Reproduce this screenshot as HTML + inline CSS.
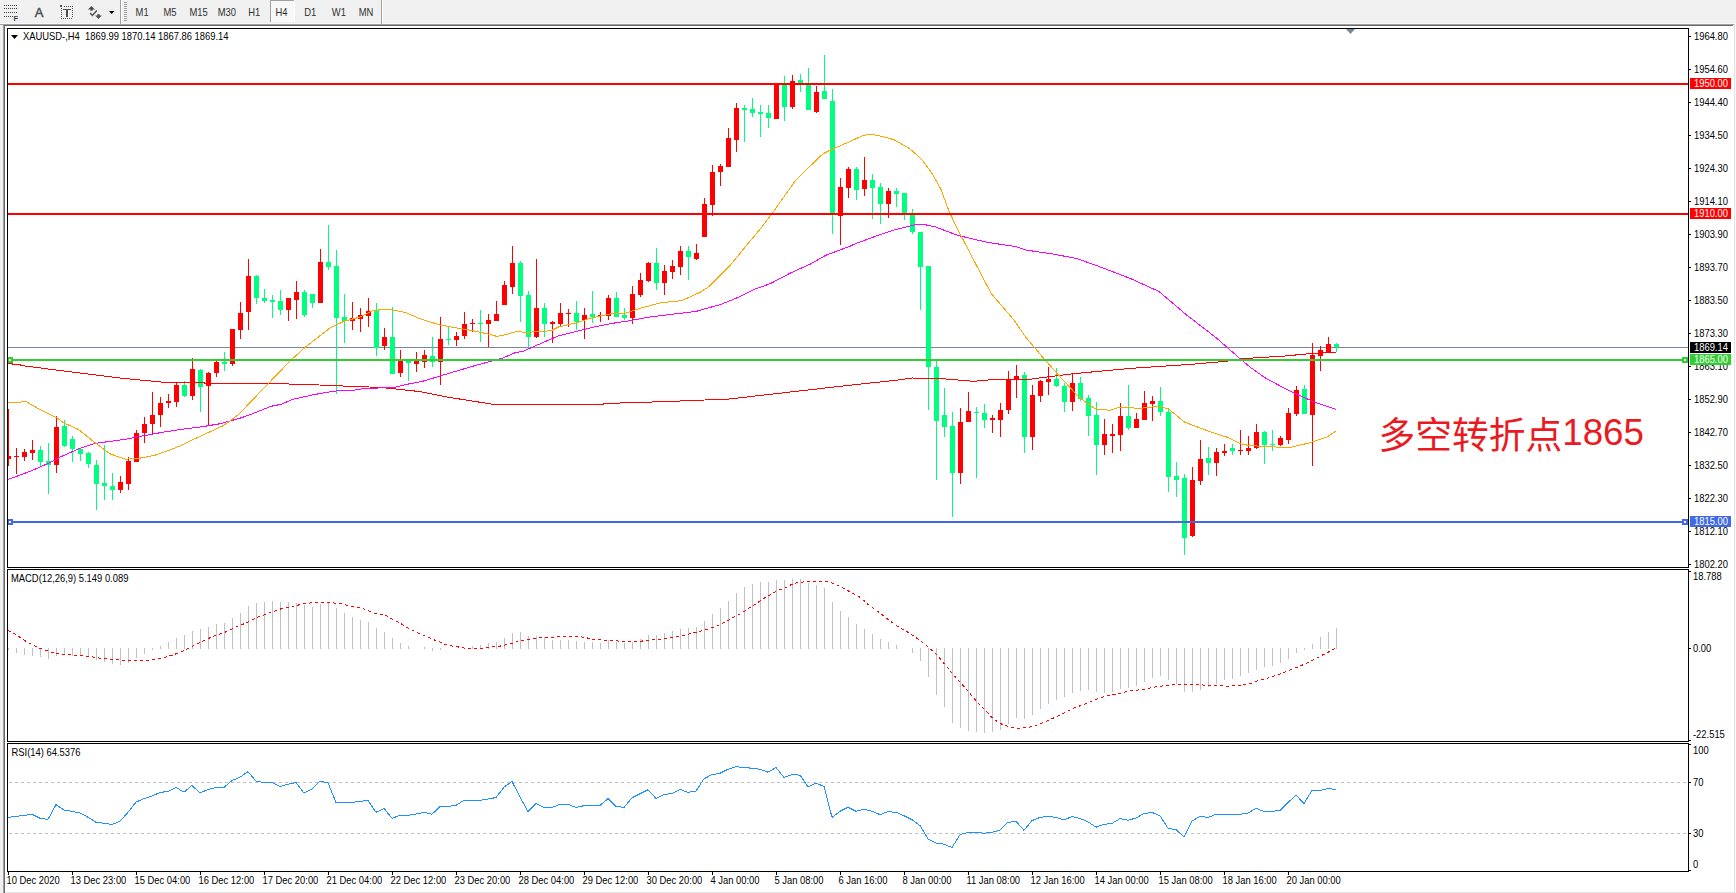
<!DOCTYPE html>
<html><head><meta charset="utf-8"><title>XAUUSD H4</title>
<style>
html,body{margin:0;padding:0;width:1736px;height:893px;overflow:hidden;background:#f0f0f0;}
svg{display:block;}
</style></head><body>
<svg width="1736" height="893" viewBox="0 0 1736 893">
<rect x="0" y="0" width="1736" height="893" fill="#f0f0f0"/>
<rect x="5" y="26" width="1729" height="866" fill="#ffffff"/>
<rect x="0" y="23" width="1736" height="1" fill="#f8f8f8"/>
<rect x="0" y="24" width="1734" height="1" fill="#a0a0a0"/>
<rect x="4" y="25" width="1729" height="1" fill="#696969"/>
<rect x="3" y="24" width="1" height="869" fill="#a0a0a0"/>
<rect x="4" y="25" width="1" height="868" fill="#696969"/>
<rect x="1734" y="24" width="1" height="869" fill="#e3e3e3"/>
<rect x="5" y="892" width="1730" height="1" fill="#e3e3e3"/>
<rect x="1735" y="24" width="1" height="869" fill="#f8f8f8"/>
<defs>
<clipPath id="cm"><rect x="8" y="29" width="1680" height="538"/></clipPath>
<clipPath id="cd"><rect x="8" y="570" width="1680" height="171"/></clipPath>
<clipPath id="cr"><rect x="8" y="744" width="1680" height="127"/></clipPath>
</defs>
<g clip-path="url(#cm)" shape-rendering="crispEdges">
<rect x="8" y="347" width="1680" height="1" fill="#778899"/>
</g>
<g clip-path="url(#cm)" shape-rendering="crispEdges">
<rect x="8" y="409" width="1" height="57" fill="#ff0000"/>
<rect x="6" y="456" width="5" height="3" fill="#ff0000"/>
<rect x="16" y="448" width="1" height="26" fill="#ff0000"/>
<rect x="14" y="456" width="5" height="1" fill="#ff0000"/>
<rect x="24" y="449" width="1" height="12" fill="#ff0000"/>
<rect x="22" y="452" width="5" height="5" fill="#ff0000"/>
<rect x="32" y="440" width="1" height="20" fill="#ff0000"/>
<rect x="30" y="450" width="5" height="3" fill="#ff0000"/>
<rect x="40" y="446" width="1" height="20" fill="#00ff7f"/>
<rect x="38" y="450" width="5" height="12" fill="#00ff7f"/>
<rect x="48" y="443" width="1" height="51" fill="#00ff7f"/>
<rect x="46" y="461" width="5" height="4" fill="#00ff7f"/>
<rect x="56" y="416" width="1" height="57" fill="#ff0000"/>
<rect x="54" y="427" width="5" height="38" fill="#ff0000"/>
<rect x="64" y="420" width="1" height="27" fill="#00ff7f"/>
<rect x="62" y="426" width="5" height="20" fill="#00ff7f"/>
<rect x="72" y="436" width="1" height="26" fill="#00ff7f"/>
<rect x="70" y="439" width="5" height="10" fill="#00ff7f"/>
<rect x="80" y="448" width="1" height="13" fill="#00ff7f"/>
<rect x="78" y="449" width="5" height="5" fill="#00ff7f"/>
<rect x="88" y="452" width="1" height="16" fill="#00ff7f"/>
<rect x="86" y="453" width="5" height="11" fill="#00ff7f"/>
<rect x="96" y="460" width="1" height="50" fill="#00ff7f"/>
<rect x="94" y="465" width="5" height="19" fill="#00ff7f"/>
<rect x="104" y="445" width="1" height="55" fill="#00ff7f"/>
<rect x="102" y="483" width="5" height="3" fill="#00ff7f"/>
<rect x="112" y="473" width="1" height="27" fill="#00ff7f"/>
<rect x="110" y="486" width="5" height="4" fill="#00ff7f"/>
<rect x="120" y="476" width="1" height="17" fill="#ff0000"/>
<rect x="118" y="482" width="5" height="8" fill="#ff0000"/>
<rect x="128" y="457" width="1" height="33" fill="#ff0000"/>
<rect x="126" y="461" width="5" height="23" fill="#ff0000"/>
<rect x="136" y="430" width="1" height="32" fill="#ff0000"/>
<rect x="134" y="433" width="5" height="29" fill="#ff0000"/>
<rect x="144" y="417" width="1" height="26" fill="#ff0000"/>
<rect x="142" y="424" width="5" height="9" fill="#ff0000"/>
<rect x="152" y="392" width="1" height="42" fill="#ff0000"/>
<rect x="150" y="415" width="5" height="9" fill="#ff0000"/>
<rect x="160" y="397" width="1" height="30" fill="#ff0000"/>
<rect x="158" y="403" width="5" height="12" fill="#ff0000"/>
<rect x="168" y="394" width="1" height="14" fill="#ff0000"/>
<rect x="166" y="401" width="5" height="2" fill="#ff0000"/>
<rect x="176" y="382" width="1" height="25" fill="#ff0000"/>
<rect x="174" y="385" width="5" height="17" fill="#ff0000"/>
<rect x="184" y="381" width="1" height="16" fill="#00ff7f"/>
<rect x="182" y="385" width="5" height="11" fill="#00ff7f"/>
<rect x="192" y="358" width="1" height="42" fill="#ff0000"/>
<rect x="190" y="369" width="5" height="27" fill="#ff0000"/>
<rect x="200" y="369" width="1" height="43" fill="#00ff7f"/>
<rect x="198" y="370" width="5" height="17" fill="#00ff7f"/>
<rect x="208" y="372" width="1" height="54" fill="#ff0000"/>
<rect x="206" y="373" width="5" height="13" fill="#ff0000"/>
<rect x="216" y="361" width="1" height="16" fill="#ff0000"/>
<rect x="214" y="362" width="5" height="11" fill="#ff0000"/>
<rect x="224" y="352" width="1" height="19" fill="#00ff7f"/>
<rect x="222" y="362" width="5" height="2" fill="#00ff7f"/>
<rect x="232" y="329" width="1" height="37" fill="#ff0000"/>
<rect x="230" y="329" width="5" height="35" fill="#ff0000"/>
<rect x="240" y="302" width="1" height="37" fill="#ff0000"/>
<rect x="238" y="313" width="5" height="17" fill="#ff0000"/>
<rect x="248" y="259" width="1" height="71" fill="#ff0000"/>
<rect x="246" y="276" width="5" height="36" fill="#ff0000"/>
<rect x="256" y="275" width="1" height="29" fill="#00ff7f"/>
<rect x="254" y="276" width="5" height="22" fill="#00ff7f"/>
<rect x="264" y="289" width="1" height="14" fill="#00ff7f"/>
<rect x="262" y="298" width="5" height="3" fill="#00ff7f"/>
<rect x="272" y="295" width="1" height="23" fill="#00ff7f"/>
<rect x="270" y="300" width="5" height="2" fill="#00ff7f"/>
<rect x="280" y="290" width="1" height="25" fill="#00ff7f"/>
<rect x="278" y="301" width="5" height="9" fill="#00ff7f"/>
<rect x="288" y="298" width="1" height="23" fill="#ff0000"/>
<rect x="286" y="298" width="5" height="12" fill="#ff0000"/>
<rect x="296" y="281" width="1" height="38" fill="#ff0000"/>
<rect x="294" y="292" width="5" height="8" fill="#ff0000"/>
<rect x="304" y="290" width="1" height="27" fill="#00ff7f"/>
<rect x="302" y="292" width="5" height="23" fill="#00ff7f"/>
<rect x="312" y="294" width="1" height="14" fill="#00ff7f"/>
<rect x="310" y="294" width="5" height="9" fill="#00ff7f"/>
<rect x="320" y="249" width="1" height="54" fill="#ff0000"/>
<rect x="318" y="262" width="5" height="41" fill="#ff0000"/>
<rect x="328" y="225" width="1" height="45" fill="#00ff7f"/>
<rect x="326" y="262" width="5" height="5" fill="#00ff7f"/>
<rect x="336" y="250" width="1" height="144" fill="#00ff7f"/>
<rect x="334" y="266" width="5" height="52" fill="#00ff7f"/>
<rect x="344" y="294" width="1" height="49" fill="#00ff7f"/>
<rect x="342" y="317" width="5" height="4" fill="#00ff7f"/>
<rect x="352" y="302" width="1" height="28" fill="#ff0000"/>
<rect x="350" y="318" width="5" height="3" fill="#ff0000"/>
<rect x="360" y="308" width="1" height="24" fill="#ff0000"/>
<rect x="358" y="315" width="5" height="4" fill="#ff0000"/>
<rect x="368" y="298" width="1" height="29" fill="#ff0000"/>
<rect x="366" y="311" width="5" height="5" fill="#ff0000"/>
<rect x="376" y="303" width="1" height="53" fill="#00ff7f"/>
<rect x="374" y="310" width="5" height="38" fill="#00ff7f"/>
<rect x="384" y="328" width="1" height="22" fill="#ff0000"/>
<rect x="382" y="337" width="5" height="9" fill="#ff0000"/>
<rect x="392" y="307" width="1" height="67" fill="#00ff7f"/>
<rect x="390" y="337" width="5" height="37" fill="#00ff7f"/>
<rect x="400" y="350" width="1" height="27" fill="#ff0000"/>
<rect x="398" y="360" width="5" height="13" fill="#ff0000"/>
<rect x="408" y="360" width="1" height="21" fill="#00ff7f"/>
<rect x="406" y="361" width="5" height="2" fill="#00ff7f"/>
<rect x="416" y="352" width="1" height="20" fill="#ff0000"/>
<rect x="414" y="360" width="5" height="4" fill="#ff0000"/>
<rect x="424" y="350" width="1" height="18" fill="#ff0000"/>
<rect x="422" y="355" width="5" height="7" fill="#ff0000"/>
<rect x="432" y="337" width="1" height="30" fill="#00ff7f"/>
<rect x="430" y="356" width="5" height="6" fill="#00ff7f"/>
<rect x="440" y="317" width="1" height="68" fill="#ff0000"/>
<rect x="438" y="339" width="5" height="23" fill="#ff0000"/>
<rect x="448" y="327" width="1" height="18" fill="#00ff7f"/>
<rect x="446" y="339" width="5" height="1" fill="#00ff7f"/>
<rect x="456" y="332" width="1" height="14" fill="#ff0000"/>
<rect x="454" y="336" width="5" height="4" fill="#ff0000"/>
<rect x="464" y="312" width="1" height="27" fill="#ff0000"/>
<rect x="462" y="324" width="5" height="12" fill="#ff0000"/>
<rect x="472" y="319" width="1" height="13" fill="#ff0000"/>
<rect x="470" y="323" width="5" height="1" fill="#ff0000"/>
<rect x="480" y="310" width="1" height="32" fill="#00ff7f"/>
<rect x="478" y="323" width="5" height="1" fill="#00ff7f"/>
<rect x="488" y="314" width="1" height="33" fill="#ff0000"/>
<rect x="486" y="320" width="5" height="4" fill="#ff0000"/>
<rect x="496" y="301" width="1" height="20" fill="#ff0000"/>
<rect x="494" y="314" width="5" height="7" fill="#ff0000"/>
<rect x="504" y="281" width="1" height="24" fill="#ff0000"/>
<rect x="502" y="285" width="5" height="20" fill="#ff0000"/>
<rect x="512" y="246" width="1" height="48" fill="#ff0000"/>
<rect x="510" y="263" width="5" height="24" fill="#ff0000"/>
<rect x="520" y="261" width="1" height="61" fill="#00ff7f"/>
<rect x="518" y="263" width="5" height="33" fill="#00ff7f"/>
<rect x="528" y="291" width="1" height="57" fill="#00ff7f"/>
<rect x="526" y="295" width="5" height="42" fill="#00ff7f"/>
<rect x="536" y="259" width="1" height="79" fill="#ff0000"/>
<rect x="534" y="308" width="5" height="29" fill="#ff0000"/>
<rect x="544" y="303" width="1" height="34" fill="#00ff7f"/>
<rect x="542" y="308" width="5" height="16" fill="#00ff7f"/>
<rect x="552" y="321" width="1" height="22" fill="#ff0000"/>
<rect x="550" y="322" width="5" height="2" fill="#ff0000"/>
<rect x="560" y="303" width="1" height="24" fill="#ff0000"/>
<rect x="558" y="313" width="5" height="11" fill="#ff0000"/>
<rect x="568" y="309" width="1" height="18" fill="#ff0000"/>
<rect x="566" y="313" width="5" height="1" fill="#ff0000"/>
<rect x="576" y="301" width="1" height="29" fill="#00ff7f"/>
<rect x="574" y="313" width="5" height="9" fill="#00ff7f"/>
<rect x="584" y="308" width="1" height="31" fill="#ff0000"/>
<rect x="582" y="315" width="5" height="5" fill="#ff0000"/>
<rect x="592" y="291" width="1" height="32" fill="#00ff7f"/>
<rect x="590" y="314" width="5" height="3" fill="#00ff7f"/>
<rect x="600" y="312" width="1" height="10" fill="#ff0000"/>
<rect x="598" y="315" width="5" height="1" fill="#ff0000"/>
<rect x="608" y="295" width="1" height="25" fill="#ff0000"/>
<rect x="606" y="298" width="5" height="18" fill="#ff0000"/>
<rect x="616" y="292" width="1" height="25" fill="#00ff7f"/>
<rect x="614" y="298" width="5" height="19" fill="#00ff7f"/>
<rect x="624" y="308" width="1" height="12" fill="#00ff7f"/>
<rect x="622" y="315" width="5" height="3" fill="#00ff7f"/>
<rect x="632" y="286" width="1" height="38" fill="#ff0000"/>
<rect x="630" y="294" width="5" height="24" fill="#ff0000"/>
<rect x="640" y="273" width="1" height="24" fill="#ff0000"/>
<rect x="638" y="280" width="5" height="15" fill="#ff0000"/>
<rect x="648" y="262" width="1" height="20" fill="#ff0000"/>
<rect x="646" y="263" width="5" height="18" fill="#ff0000"/>
<rect x="656" y="248" width="1" height="42" fill="#00ff7f"/>
<rect x="654" y="263" width="5" height="20" fill="#00ff7f"/>
<rect x="664" y="265" width="1" height="30" fill="#ff0000"/>
<rect x="662" y="271" width="5" height="12" fill="#ff0000"/>
<rect x="672" y="260" width="1" height="19" fill="#ff0000"/>
<rect x="670" y="266" width="5" height="6" fill="#ff0000"/>
<rect x="680" y="246" width="1" height="29" fill="#ff0000"/>
<rect x="678" y="251" width="5" height="16" fill="#ff0000"/>
<rect x="688" y="246" width="1" height="34" fill="#00ff7f"/>
<rect x="686" y="251" width="5" height="6" fill="#00ff7f"/>
<rect x="696" y="244" width="1" height="16" fill="#ff0000"/>
<rect x="694" y="253" width="5" height="6" fill="#ff0000"/>
<rect x="704" y="198" width="1" height="39" fill="#ff0000"/>
<rect x="702" y="204" width="5" height="33" fill="#ff0000"/>
<rect x="712" y="165" width="1" height="51" fill="#ff0000"/>
<rect x="710" y="172" width="5" height="33" fill="#ff0000"/>
<rect x="720" y="164" width="1" height="22" fill="#ff0000"/>
<rect x="718" y="166" width="5" height="6" fill="#ff0000"/>
<rect x="728" y="128" width="1" height="39" fill="#ff0000"/>
<rect x="726" y="138" width="5" height="29" fill="#ff0000"/>
<rect x="736" y="103" width="1" height="49" fill="#ff0000"/>
<rect x="734" y="108" width="5" height="32" fill="#ff0000"/>
<rect x="744" y="105" width="1" height="37" fill="#00ff7f"/>
<rect x="742" y="108" width="5" height="2" fill="#00ff7f"/>
<rect x="752" y="98" width="1" height="19" fill="#00ff7f"/>
<rect x="750" y="109" width="5" height="4" fill="#00ff7f"/>
<rect x="760" y="105" width="1" height="32" fill="#00ff7f"/>
<rect x="758" y="112" width="5" height="2" fill="#00ff7f"/>
<rect x="768" y="105" width="1" height="23" fill="#00ff7f"/>
<rect x="766" y="113" width="5" height="5" fill="#00ff7f"/>
<rect x="776" y="84" width="1" height="35" fill="#ff0000"/>
<rect x="774" y="84" width="5" height="35" fill="#ff0000"/>
<rect x="784" y="76" width="1" height="45" fill="#00ff7f"/>
<rect x="782" y="85" width="5" height="22" fill="#00ff7f"/>
<rect x="792" y="75" width="1" height="34" fill="#ff0000"/>
<rect x="790" y="81" width="5" height="26" fill="#ff0000"/>
<rect x="800" y="74" width="1" height="18" fill="#00ff7f"/>
<rect x="798" y="80" width="5" height="3" fill="#00ff7f"/>
<rect x="808" y="68" width="1" height="42" fill="#00ff7f"/>
<rect x="806" y="85" width="5" height="25" fill="#00ff7f"/>
<rect x="816" y="86" width="1" height="27" fill="#ff0000"/>
<rect x="814" y="92" width="5" height="20" fill="#ff0000"/>
<rect x="824" y="55" width="1" height="44" fill="#00ff7f"/>
<rect x="822" y="91" width="5" height="8" fill="#00ff7f"/>
<rect x="832" y="89" width="1" height="145" fill="#00ff7f"/>
<rect x="830" y="101" width="5" height="114" fill="#00ff7f"/>
<rect x="840" y="178" width="1" height="67" fill="#ff0000"/>
<rect x="838" y="187" width="5" height="29" fill="#ff0000"/>
<rect x="848" y="167" width="1" height="31" fill="#ff0000"/>
<rect x="846" y="169" width="5" height="19" fill="#ff0000"/>
<rect x="856" y="167" width="1" height="33" fill="#00ff7f"/>
<rect x="854" y="169" width="5" height="21" fill="#00ff7f"/>
<rect x="864" y="157" width="1" height="39" fill="#ff0000"/>
<rect x="862" y="180" width="5" height="9" fill="#ff0000"/>
<rect x="872" y="174" width="1" height="45" fill="#00ff7f"/>
<rect x="870" y="180" width="5" height="8" fill="#00ff7f"/>
<rect x="880" y="183" width="1" height="41" fill="#00ff7f"/>
<rect x="878" y="187" width="5" height="17" fill="#00ff7f"/>
<rect x="888" y="188" width="1" height="30" fill="#ff0000"/>
<rect x="886" y="191" width="5" height="13" fill="#ff0000"/>
<rect x="896" y="188" width="1" height="19" fill="#00ff7f"/>
<rect x="894" y="191" width="5" height="3" fill="#00ff7f"/>
<rect x="904" y="193" width="1" height="27" fill="#00ff7f"/>
<rect x="902" y="193" width="5" height="20" fill="#00ff7f"/>
<rect x="912" y="209" width="1" height="25" fill="#00ff7f"/>
<rect x="910" y="215" width="5" height="17" fill="#00ff7f"/>
<rect x="920" y="232" width="1" height="78" fill="#00ff7f"/>
<rect x="918" y="232" width="5" height="35" fill="#00ff7f"/>
<rect x="928" y="266" width="1" height="144" fill="#00ff7f"/>
<rect x="926" y="266" width="5" height="101" fill="#00ff7f"/>
<rect x="936" y="361" width="1" height="119" fill="#00ff7f"/>
<rect x="934" y="367" width="5" height="54" fill="#00ff7f"/>
<rect x="944" y="388" width="1" height="49" fill="#00ff7f"/>
<rect x="942" y="415" width="5" height="12" fill="#00ff7f"/>
<rect x="952" y="412" width="1" height="105" fill="#00ff7f"/>
<rect x="950" y="426" width="5" height="47" fill="#00ff7f"/>
<rect x="960" y="408" width="1" height="76" fill="#ff0000"/>
<rect x="958" y="422" width="5" height="51" fill="#ff0000"/>
<rect x="968" y="392" width="1" height="30" fill="#ff0000"/>
<rect x="966" y="411" width="5" height="11" fill="#ff0000"/>
<rect x="976" y="407" width="1" height="71" fill="#00ff7f"/>
<rect x="974" y="412" width="5" height="1" fill="#00ff7f"/>
<rect x="984" y="404" width="1" height="24" fill="#00ff7f"/>
<rect x="982" y="413" width="5" height="7" fill="#00ff7f"/>
<rect x="992" y="415" width="1" height="18" fill="#ff0000"/>
<rect x="990" y="418" width="5" height="2" fill="#ff0000"/>
<rect x="1000" y="403" width="1" height="34" fill="#ff0000"/>
<rect x="998" y="410" width="5" height="10" fill="#ff0000"/>
<rect x="1008" y="371" width="1" height="43" fill="#ff0000"/>
<rect x="1006" y="379" width="5" height="31" fill="#ff0000"/>
<rect x="1016" y="365" width="1" height="33" fill="#ff0000"/>
<rect x="1014" y="376" width="5" height="3" fill="#ff0000"/>
<rect x="1024" y="372" width="1" height="81" fill="#00ff7f"/>
<rect x="1022" y="375" width="5" height="62" fill="#00ff7f"/>
<rect x="1032" y="385" width="1" height="65" fill="#ff0000"/>
<rect x="1030" y="395" width="5" height="42" fill="#ff0000"/>
<rect x="1040" y="380" width="1" height="22" fill="#ff0000"/>
<rect x="1038" y="381" width="5" height="15" fill="#ff0000"/>
<rect x="1048" y="367" width="1" height="28" fill="#ff0000"/>
<rect x="1046" y="379" width="5" height="3" fill="#ff0000"/>
<rect x="1056" y="368" width="1" height="19" fill="#00ff7f"/>
<rect x="1054" y="379" width="5" height="7" fill="#00ff7f"/>
<rect x="1064" y="383" width="1" height="29" fill="#00ff7f"/>
<rect x="1062" y="386" width="5" height="16" fill="#00ff7f"/>
<rect x="1072" y="373" width="1" height="38" fill="#ff0000"/>
<rect x="1070" y="383" width="5" height="19" fill="#ff0000"/>
<rect x="1080" y="377" width="1" height="24" fill="#00ff7f"/>
<rect x="1078" y="383" width="5" height="16" fill="#00ff7f"/>
<rect x="1088" y="395" width="1" height="41" fill="#00ff7f"/>
<rect x="1086" y="398" width="5" height="18" fill="#00ff7f"/>
<rect x="1096" y="402" width="1" height="73" fill="#00ff7f"/>
<rect x="1094" y="415" width="5" height="30" fill="#00ff7f"/>
<rect x="1104" y="419" width="1" height="36" fill="#ff0000"/>
<rect x="1102" y="434" width="5" height="11" fill="#ff0000"/>
<rect x="1112" y="424" width="1" height="29" fill="#ff0000"/>
<rect x="1110" y="434" width="5" height="2" fill="#ff0000"/>
<rect x="1120" y="403" width="1" height="48" fill="#ff0000"/>
<rect x="1118" y="416" width="5" height="19" fill="#ff0000"/>
<rect x="1128" y="385" width="1" height="45" fill="#00ff7f"/>
<rect x="1126" y="416" width="5" height="12" fill="#00ff7f"/>
<rect x="1136" y="413" width="1" height="15" fill="#ff0000"/>
<rect x="1134" y="419" width="5" height="9" fill="#ff0000"/>
<rect x="1144" y="391" width="1" height="29" fill="#ff0000"/>
<rect x="1142" y="403" width="5" height="17" fill="#ff0000"/>
<rect x="1152" y="396" width="1" height="25" fill="#ff0000"/>
<rect x="1150" y="401" width="5" height="3" fill="#ff0000"/>
<rect x="1160" y="387" width="1" height="29" fill="#00ff7f"/>
<rect x="1158" y="401" width="5" height="11" fill="#00ff7f"/>
<rect x="1168" y="408" width="1" height="84" fill="#00ff7f"/>
<rect x="1166" y="412" width="5" height="65" fill="#00ff7f"/>
<rect x="1176" y="462" width="1" height="35" fill="#00ff7f"/>
<rect x="1174" y="476" width="5" height="4" fill="#00ff7f"/>
<rect x="1184" y="474" width="1" height="81" fill="#00ff7f"/>
<rect x="1182" y="478" width="5" height="60" fill="#00ff7f"/>
<rect x="1192" y="467" width="1" height="70" fill="#ff0000"/>
<rect x="1190" y="480" width="5" height="56" fill="#ff0000"/>
<rect x="1200" y="440" width="1" height="45" fill="#ff0000"/>
<rect x="1198" y="459" width="5" height="22" fill="#ff0000"/>
<rect x="1208" y="447" width="1" height="28" fill="#00ff7f"/>
<rect x="1206" y="458" width="5" height="5" fill="#00ff7f"/>
<rect x="1216" y="448" width="1" height="28" fill="#ff0000"/>
<rect x="1214" y="452" width="5" height="11" fill="#ff0000"/>
<rect x="1224" y="444" width="1" height="12" fill="#ff0000"/>
<rect x="1222" y="451" width="5" height="2" fill="#ff0000"/>
<rect x="1232" y="444" width="1" height="11" fill="#00ff7f"/>
<rect x="1230" y="448" width="5" height="3" fill="#00ff7f"/>
<rect x="1240" y="430" width="1" height="25" fill="#ff0000"/>
<rect x="1238" y="450" width="5" height="1" fill="#ff0000"/>
<rect x="1248" y="436" width="1" height="19" fill="#ff0000"/>
<rect x="1246" y="448" width="5" height="3" fill="#ff0000"/>
<rect x="1256" y="424" width="1" height="25" fill="#ff0000"/>
<rect x="1254" y="432" width="5" height="16" fill="#ff0000"/>
<rect x="1264" y="431" width="1" height="33" fill="#00ff7f"/>
<rect x="1262" y="432" width="5" height="13" fill="#00ff7f"/>
<rect x="1272" y="430" width="1" height="21" fill="#00ff7f"/>
<rect x="1270" y="444" width="5" height="1" fill="#00ff7f"/>
<rect x="1280" y="436" width="1" height="10" fill="#ff0000"/>
<rect x="1278" y="438" width="5" height="7" fill="#ff0000"/>
<rect x="1288" y="408" width="1" height="36" fill="#ff0000"/>
<rect x="1286" y="413" width="5" height="27" fill="#ff0000"/>
<rect x="1296" y="386" width="1" height="30" fill="#ff0000"/>
<rect x="1294" y="390" width="5" height="24" fill="#ff0000"/>
<rect x="1304" y="385" width="1" height="29" fill="#00ff7f"/>
<rect x="1302" y="389" width="5" height="25" fill="#00ff7f"/>
<rect x="1312" y="343" width="1" height="123" fill="#ff0000"/>
<rect x="1310" y="355" width="5" height="60" fill="#ff0000"/>
<rect x="1320" y="346" width="1" height="25" fill="#ff0000"/>
<rect x="1318" y="350" width="5" height="6" fill="#ff0000"/>
<rect x="1328" y="337" width="1" height="15" fill="#ff0000"/>
<rect x="1326" y="344" width="5" height="8" fill="#ff0000"/>
<rect x="1336" y="343" width="1" height="9" fill="#00ff7f"/>
<rect x="1334" y="344" width="5" height="3" fill="#00ff7f"/>
</g>
<g clip-path="url(#cm)" fill="none" stroke-width="1" shape-rendering="crispEdges">
<polyline points="8.0,363.5 12.0,363.5 13.0,364.5 20.0,364.5 21.0,365.5 60.0,370.5 120.0,378.0 164.8,382.4 180.0,382.5 204.0,382.5 205.0,383.5 269.0,383.5 308.0,384.5 333.0,385.6 356.0,386.5 380.0,387.4 396.0,389.0 420.0,391.6 449.4,397.4 494.3,404.5 603.0,404.5 604.0,403.5 668.0,401.5 729.0,399.0 774.8,393.8 835.9,386.8 897.0,380.1 912.2,378.0 939.7,378.5 973.3,381.3 988.5,380.0 1025.7,379.5 1030.0,379.2 1073.3,373.7 1130.4,368.4 1187.5,364.6 1225.6,361.4 1243.4,358.6 1283.7,356.1 1310.6,353.6 1325.0,352.5 1336.0,352.5" stroke="#ff0000"/>
<polyline points="8.0,479.5 31.3,470.9 54.9,460.3 60.0,457.1 78.4,449.0 93.6,443.7 117.6,440.3 127.2,439.0 140.0,436.4 160.8,432.6 180.0,429.5 202.4,426.7 220.3,423.7 240.0,418.2 250.4,414.6 260.7,410.4 271.1,406.3 281.5,404.2 291.8,399.6 302.2,397.2 312.6,394.9 323.0,393.0 333.3,391.3 343.7,390.2 354.1,390.2 364.4,388.5 374.8,388.1 385.2,387.8 395.5,387.1 405.9,384.5 421.9,381.5 448.7,373.4 475.6,365.4 502.5,358.2 515.0,352.8 522.9,351.4 540.8,343.5 558.7,335.8 576.6,331.3 594.6,326.9 612.5,323.3 625.0,321.5 650.0,317.0 696.7,311.3 700.0,310.2 720.2,304.6 735.3,298.6 755.4,289.0 770.6,283.5 790.7,272.9 810.9,263.8 826.0,255.2 850.0,246.2 854.9,243.9 881.7,234.0 895.3,229.6 903.0,227.8 916.2,224.4 923.6,224.4 935.5,226.9 942.0,229.4 948.0,231.7 959.0,235.7 987.6,242.4 1016.2,246.6 1025.7,250.0 1054.2,254.2 1077.0,258.6 1101.8,267.5 1130.4,278.5 1159.0,291.5 1187.5,315.7 1216.0,337.6 1240.0,358.6 1250.0,367.1 1265.2,377.9 1290.4,391.4 1315.6,402.6 1335.8,409.4" stroke="#ff00ff"/>
<polyline points="8.0,402.4 19.6,402.4 25.0,401.0 39.0,409.0 56.4,417.6 64.0,423.0 78.4,429.4 94.0,441.9 109.7,453.7 125.4,459.2 139.0,458.3 154.0,455.5 167.6,450.8 180.0,446.0 193.9,439.2 223.0,425.8 230.0,420.9 239.0,414.2 244.3,408.5 290.0,361.0 304.8,347.6 330.5,327.6 344.8,321.0 360.0,317.1 373.3,310.5 386.7,309.1 400.0,311.4 405.7,312.5 420.0,318.8 439.8,325.0 456.0,327.8 472.0,330.5 488.0,334.0 497.0,336.4 506.0,334.6 515.7,331.7 526.5,332.2 540.8,331.7 551.6,330.5 558.7,326.9 576.6,322.8 589.0,318.8 600.0,316.1 612.5,313.4 625.0,313.4 639.3,308.5 660.6,302.8 681.8,300.6 700.0,292.3 709.0,286.5 720.0,275.5 730.2,265.3 748.4,243.1 763.5,225.0 771.7,214.0 796.4,179.3 823.2,153.6 830.0,150.2 848.5,142.2 863.3,135.4 870.6,134.2 881.7,136.3 894.0,139.7 910.0,148.9 921.1,158.8 931.0,171.7 940.8,189.0 949.5,212.4 958.0,230.0 972.4,257.6 991.4,293.8 1014.3,320.4 1025.0,336.2 1033.3,346.1 1044.7,359.5 1058.8,375.4 1079.0,397.2 1095.2,408.9 1109.7,410.3 1120.0,407.1 1130.0,407.5 1138.0,408.6 1159.4,406.2 1169.2,409.5 1184.9,422.3 1208.4,431.1 1228.0,437.5 1240.0,443.5 1250.0,445.8 1256.8,446.0 1288.7,447.7 1310.6,442.6 1327.4,436.8 1335.8,431.2" stroke="#ffa500"/>
</g>
<g clip-path="url(#cm)" shape-rendering="crispEdges">
<rect x="8" y="83" width="1680" height="2" fill="#ff0000"/>
<rect x="8" y="213" width="1680" height="2" fill="#ff0000"/>
<rect x="8" y="359" width="1680" height="2" fill="#32cd32"/>
<rect x="8" y="521" width="1680" height="2" fill="#4169e1"/>
</g>
<g shape-rendering="crispEdges">
<rect x="7" y="357" width="6" height="6" fill="#32cd32"/>
<rect x="9" y="359" width="2" height="2" fill="#ffffff"/>
<rect x="1682" y="357" width="6" height="6" fill="#32cd32"/>
<rect x="1684" y="359" width="2" height="2" fill="#ffffff"/>
<rect x="7" y="519" width="6" height="6" fill="#4169e1"/>
<rect x="9" y="521" width="2" height="2" fill="#ffffff"/>
<rect x="1682" y="519" width="6" height="6" fill="#4169e1"/>
<rect x="1684" y="521" width="2" height="2" fill="#ffffff"/>
</g>
<polygon points="1346,29 1355,29 1350.5,34" fill="#778899"/>
<g clip-path="url(#cd)" shape-rendering="crispEdges">
<rect x="8" y="648" width="1" height="2" fill="#c0c0c0"/>
<rect x="16" y="648" width="1" height="5" fill="#c0c0c0"/>
<rect x="24" y="648" width="1" height="7" fill="#c0c0c0"/>
<rect x="32" y="648" width="1" height="8" fill="#c0c0c0"/>
<rect x="40" y="648" width="1" height="9" fill="#c0c0c0"/>
<rect x="48" y="648" width="1" height="11" fill="#c0c0c0"/>
<rect x="56" y="648" width="1" height="8" fill="#c0c0c0"/>
<rect x="64" y="648" width="1" height="7" fill="#c0c0c0"/>
<rect x="72" y="648" width="1" height="8" fill="#c0c0c0"/>
<rect x="80" y="648" width="1" height="8" fill="#c0c0c0"/>
<rect x="88" y="648" width="1" height="8" fill="#c0c0c0"/>
<rect x="96" y="648" width="1" height="12" fill="#c0c0c0"/>
<rect x="104" y="648" width="1" height="14" fill="#c0c0c0"/>
<rect x="112" y="648" width="1" height="16" fill="#c0c0c0"/>
<rect x="120" y="648" width="1" height="17" fill="#c0c0c0"/>
<rect x="128" y="648" width="1" height="15" fill="#c0c0c0"/>
<rect x="136" y="648" width="1" height="10" fill="#c0c0c0"/>
<rect x="144" y="648" width="1" height="6" fill="#c0c0c0"/>
<rect x="152" y="648" width="1" height="2" fill="#c0c0c0"/>
<rect x="160" y="646" width="1" height="3" fill="#c0c0c0"/>
<rect x="168" y="642" width="1" height="7" fill="#c0c0c0"/>
<rect x="176" y="638" width="1" height="11" fill="#c0c0c0"/>
<rect x="184" y="635" width="1" height="14" fill="#c0c0c0"/>
<rect x="192" y="631" width="1" height="18" fill="#c0c0c0"/>
<rect x="200" y="629" width="1" height="20" fill="#c0c0c0"/>
<rect x="208" y="627" width="1" height="22" fill="#c0c0c0"/>
<rect x="216" y="624" width="1" height="25" fill="#c0c0c0"/>
<rect x="224" y="623" width="1" height="26" fill="#c0c0c0"/>
<rect x="232" y="618" width="1" height="31" fill="#c0c0c0"/>
<rect x="240" y="613" width="1" height="36" fill="#c0c0c0"/>
<rect x="248" y="606" width="1" height="43" fill="#c0c0c0"/>
<rect x="256" y="603" width="1" height="46" fill="#c0c0c0"/>
<rect x="264" y="602" width="1" height="47" fill="#c0c0c0"/>
<rect x="272" y="601" width="1" height="48" fill="#c0c0c0"/>
<rect x="280" y="602" width="1" height="47" fill="#c0c0c0"/>
<rect x="288" y="602" width="1" height="47" fill="#c0c0c0"/>
<rect x="296" y="603" width="1" height="46" fill="#c0c0c0"/>
<rect x="304" y="605" width="1" height="44" fill="#c0c0c0"/>
<rect x="312" y="607" width="1" height="42" fill="#c0c0c0"/>
<rect x="320" y="604" width="1" height="45" fill="#c0c0c0"/>
<rect x="328" y="602" width="1" height="47" fill="#c0c0c0"/>
<rect x="336" y="608" width="1" height="41" fill="#c0c0c0"/>
<rect x="344" y="613" width="1" height="36" fill="#c0c0c0"/>
<rect x="352" y="617" width="1" height="32" fill="#c0c0c0"/>
<rect x="360" y="620" width="1" height="29" fill="#c0c0c0"/>
<rect x="368" y="622" width="1" height="27" fill="#c0c0c0"/>
<rect x="376" y="628" width="1" height="21" fill="#c0c0c0"/>
<rect x="384" y="632" width="1" height="17" fill="#c0c0c0"/>
<rect x="392" y="638" width="1" height="11" fill="#c0c0c0"/>
<rect x="400" y="643" width="1" height="6" fill="#c0c0c0"/>
<rect x="408" y="646" width="1" height="3" fill="#c0c0c0"/>
<rect x="424" y="647" width="1" height="2" fill="#c0c0c0"/>
<rect x="432" y="648" width="1" height="3" fill="#c0c0c0"/>
<rect x="440" y="648" width="1" height="2" fill="#c0c0c0"/>
<rect x="472" y="646" width="1" height="3" fill="#c0c0c0"/>
<rect x="480" y="645" width="1" height="4" fill="#c0c0c0"/>
<rect x="488" y="643" width="1" height="6" fill="#c0c0c0"/>
<rect x="496" y="642" width="1" height="7" fill="#c0c0c0"/>
<rect x="504" y="638" width="1" height="11" fill="#c0c0c0"/>
<rect x="512" y="633" width="1" height="16" fill="#c0c0c0"/>
<rect x="520" y="632" width="1" height="17" fill="#c0c0c0"/>
<rect x="528" y="636" width="1" height="13" fill="#c0c0c0"/>
<rect x="536" y="636" width="1" height="13" fill="#c0c0c0"/>
<rect x="544" y="637" width="1" height="12" fill="#c0c0c0"/>
<rect x="552" y="640" width="1" height="9" fill="#c0c0c0"/>
<rect x="560" y="640" width="1" height="9" fill="#c0c0c0"/>
<rect x="568" y="640" width="1" height="9" fill="#c0c0c0"/>
<rect x="576" y="641" width="1" height="8" fill="#c0c0c0"/>
<rect x="584" y="642" width="1" height="7" fill="#c0c0c0"/>
<rect x="592" y="642" width="1" height="7" fill="#c0c0c0"/>
<rect x="600" y="643" width="1" height="6" fill="#c0c0c0"/>
<rect x="608" y="640" width="1" height="9" fill="#c0c0c0"/>
<rect x="616" y="642" width="1" height="7" fill="#c0c0c0"/>
<rect x="624" y="643" width="1" height="6" fill="#c0c0c0"/>
<rect x="632" y="642" width="1" height="7" fill="#c0c0c0"/>
<rect x="640" y="639" width="1" height="10" fill="#c0c0c0"/>
<rect x="648" y="635" width="1" height="14" fill="#c0c0c0"/>
<rect x="656" y="635" width="1" height="14" fill="#c0c0c0"/>
<rect x="664" y="633" width="1" height="16" fill="#c0c0c0"/>
<rect x="672" y="631" width="1" height="18" fill="#c0c0c0"/>
<rect x="680" y="629" width="1" height="20" fill="#c0c0c0"/>
<rect x="688" y="628" width="1" height="21" fill="#c0c0c0"/>
<rect x="696" y="627" width="1" height="22" fill="#c0c0c0"/>
<rect x="704" y="621" width="1" height="28" fill="#c0c0c0"/>
<rect x="712" y="614" width="1" height="35" fill="#c0c0c0"/>
<rect x="720" y="608" width="1" height="41" fill="#c0c0c0"/>
<rect x="728" y="601" width="1" height="48" fill="#c0c0c0"/>
<rect x="736" y="593" width="1" height="56" fill="#c0c0c0"/>
<rect x="744" y="587" width="1" height="62" fill="#c0c0c0"/>
<rect x="752" y="584" width="1" height="65" fill="#c0c0c0"/>
<rect x="760" y="582" width="1" height="67" fill="#c0c0c0"/>
<rect x="768" y="582" width="1" height="67" fill="#c0c0c0"/>
<rect x="776" y="580" width="1" height="69" fill="#c0c0c0"/>
<rect x="784" y="580" width="1" height="69" fill="#c0c0c0"/>
<rect x="792" y="579" width="1" height="70" fill="#c0c0c0"/>
<rect x="800" y="579" width="1" height="70" fill="#c0c0c0"/>
<rect x="808" y="583" width="1" height="66" fill="#c0c0c0"/>
<rect x="816" y="585" width="1" height="64" fill="#c0c0c0"/>
<rect x="824" y="588" width="1" height="61" fill="#c0c0c0"/>
<rect x="832" y="602" width="1" height="47" fill="#c0c0c0"/>
<rect x="840" y="611" width="1" height="38" fill="#c0c0c0"/>
<rect x="848" y="617" width="1" height="32" fill="#c0c0c0"/>
<rect x="856" y="624" width="1" height="25" fill="#c0c0c0"/>
<rect x="864" y="629" width="1" height="20" fill="#c0c0c0"/>
<rect x="872" y="634" width="1" height="15" fill="#c0c0c0"/>
<rect x="880" y="639" width="1" height="10" fill="#c0c0c0"/>
<rect x="888" y="642" width="1" height="7" fill="#c0c0c0"/>
<rect x="896" y="645" width="1" height="4" fill="#c0c0c0"/>
<rect x="912" y="648" width="1" height="5" fill="#c0c0c0"/>
<rect x="920" y="648" width="1" height="13" fill="#c0c0c0"/>
<rect x="928" y="648" width="1" height="29" fill="#c0c0c0"/>
<rect x="936" y="648" width="1" height="47" fill="#c0c0c0"/>
<rect x="944" y="648" width="1" height="59" fill="#c0c0c0"/>
<rect x="952" y="648" width="1" height="75" fill="#c0c0c0"/>
<rect x="960" y="648" width="1" height="80" fill="#c0c0c0"/>
<rect x="968" y="648" width="1" height="83" fill="#c0c0c0"/>
<rect x="976" y="648" width="1" height="84" fill="#c0c0c0"/>
<rect x="984" y="648" width="1" height="85" fill="#c0c0c0"/>
<rect x="992" y="648" width="1" height="84" fill="#c0c0c0"/>
<rect x="1000" y="648" width="1" height="82" fill="#c0c0c0"/>
<rect x="1008" y="648" width="1" height="76" fill="#c0c0c0"/>
<rect x="1016" y="648" width="1" height="70" fill="#c0c0c0"/>
<rect x="1024" y="648" width="1" height="71" fill="#c0c0c0"/>
<rect x="1032" y="648" width="1" height="67" fill="#c0c0c0"/>
<rect x="1040" y="648" width="1" height="61" fill="#c0c0c0"/>
<rect x="1048" y="648" width="1" height="56" fill="#c0c0c0"/>
<rect x="1056" y="648" width="1" height="52" fill="#c0c0c0"/>
<rect x="1064" y="648" width="1" height="49" fill="#c0c0c0"/>
<rect x="1072" y="648" width="1" height="45" fill="#c0c0c0"/>
<rect x="1080" y="648" width="1" height="43" fill="#c0c0c0"/>
<rect x="1088" y="648" width="1" height="42" fill="#c0c0c0"/>
<rect x="1096" y="648" width="1" height="44" fill="#c0c0c0"/>
<rect x="1104" y="648" width="1" height="45" fill="#c0c0c0"/>
<rect x="1112" y="648" width="1" height="44" fill="#c0c0c0"/>
<rect x="1120" y="648" width="1" height="41" fill="#c0c0c0"/>
<rect x="1128" y="648" width="1" height="40" fill="#c0c0c0"/>
<rect x="1136" y="648" width="1" height="38" fill="#c0c0c0"/>
<rect x="1144" y="648" width="1" height="34" fill="#c0c0c0"/>
<rect x="1152" y="648" width="1" height="30" fill="#c0c0c0"/>
<rect x="1160" y="648" width="1" height="28" fill="#c0c0c0"/>
<rect x="1168" y="648" width="1" height="32" fill="#c0c0c0"/>
<rect x="1176" y="648" width="1" height="36" fill="#c0c0c0"/>
<rect x="1184" y="648" width="1" height="44" fill="#c0c0c0"/>
<rect x="1192" y="648" width="1" height="44" fill="#c0c0c0"/>
<rect x="1200" y="648" width="1" height="42" fill="#c0c0c0"/>
<rect x="1208" y="648" width="1" height="39" fill="#c0c0c0"/>
<rect x="1216" y="648" width="1" height="36" fill="#c0c0c0"/>
<rect x="1224" y="648" width="1" height="32" fill="#c0c0c0"/>
<rect x="1232" y="648" width="1" height="31" fill="#c0c0c0"/>
<rect x="1240" y="648" width="1" height="28" fill="#c0c0c0"/>
<rect x="1248" y="648" width="1" height="25" fill="#c0c0c0"/>
<rect x="1256" y="648" width="1" height="22" fill="#c0c0c0"/>
<rect x="1264" y="648" width="1" height="19" fill="#c0c0c0"/>
<rect x="1272" y="648" width="1" height="18" fill="#c0c0c0"/>
<rect x="1280" y="648" width="1" height="15" fill="#c0c0c0"/>
<rect x="1288" y="648" width="1" height="11" fill="#c0c0c0"/>
<rect x="1296" y="648" width="1" height="5" fill="#c0c0c0"/>
<rect x="1304" y="648" width="1" height="2" fill="#c0c0c0"/>
<rect x="1312" y="644" width="1" height="5" fill="#c0c0c0"/>
<rect x="1320" y="637" width="1" height="12" fill="#c0c0c0"/>
<rect x="1328" y="632" width="1" height="17" fill="#c0c0c0"/>
<rect x="1336" y="628" width="1" height="21" fill="#c0c0c0"/>
</g>
<polyline clip-path="url(#cd)" points="8.0,630.3 16.0,634.7 27.6,642.4 39.2,648.2 51.8,652.2 63.4,654.3 74.9,655.4 87.6,656.2 99.0,658.0 111.8,659.4 126.7,660.3 149.8,660.3 161.3,658.2 172.8,655.1 184.3,650.5 195.9,644.7 201.5,641.8 213.0,636.4 224.6,632.4 236.0,627.1 247.6,622.3 259.0,616.7 270.6,612.5 282.2,608.4 293.7,606.1 305.2,603.5 316.7,602.4 328.2,602.4 339.8,603.6 351.3,606.1 362.8,608.4 374.3,613.0 385.9,615.3 393.0,619.6 399.4,622.5 405.0,626.5 411.5,629.7 417.3,632.8 423.6,635.1 429.4,637.8 435.1,640.3 441.5,642.6 447.2,645.2 454.1,646.4 459.9,647.2 465.6,648.4 477.2,648.4 482.9,648.2 488.7,647.2 500.2,646.1 507.1,644.4 512.9,643.2 518.6,641.2 525.0,640.3 531.3,639.2 537.0,638.0 554.4,637.4 557.8,636.3 585.0,637.1 591.5,639.4 608.8,640.3 622.6,641.4 639.9,641.4 649.1,640.0 660.6,639.1 672.2,637.4 680.2,636.2 688.3,634.3 699.8,631.3 706.7,629.7 718.2,625.5 729.8,619.5 741.3,613.2 752.8,605.7 764.3,598.2 775.9,591.3 784.5,588.1 794.0,583.3 803.5,582.0 826.4,581.4 832.0,582.9 841.6,587.1 851.1,592.5 860.6,597.6 870.1,606.2 879.7,612.8 889.2,620.4 898.7,627.1 908.2,632.4 917.7,638.9 927.2,646.1 936.8,654.7 946.3,666.1 955.8,677.5 965.3,688.0 975.0,699.4 981.5,706.6 987.3,712.6 993.0,718.3 998.8,722.7 1004.6,725.5 1016.0,728.4 1027.6,727.6 1039.1,724.3 1050.6,719.3 1062.2,714.0 1073.7,708.2 1085.2,703.9 1096.7,699.0 1108.2,695.5 1119.8,693.2 1131.3,690.7 1142.8,689.5 1154.3,687.2 1160.0,686.2 1171.5,685.1 1177.3,684.3 1206.0,685.1 1229.0,686.2 1240.6,685.4 1249.9,683.9 1257.9,680.5 1269.4,677.6 1281.0,673.6 1292.5,669.0 1304.0,664.4 1315.5,658.6 1327.0,652.8 1335.1,648.2" fill="none" stroke="#ff0000" stroke-width="1" stroke-dasharray="3,3" shape-rendering="crispEdges"/>
<g clip-path="url(#cr)" shape-rendering="crispEdges">
<line x1="9" y1="782.5" x2="1688" y2="782.5" stroke="#c0c0c0" stroke-width="1" stroke-dasharray="3,3"/>
<line x1="9" y1="833.5" x2="1688" y2="833.5" stroke="#c0c0c0" stroke-width="1" stroke-dasharray="3,3"/>
</g>
<polyline clip-path="url(#cr)" points="8.0,817.4 16.0,816.3 24.0,815.4 32.0,814.3 40.0,818.3 48.0,819.4 56.0,804.6 64.0,810.1 72.0,811.4 80.0,813.0 88.0,817.2 96.0,822.3 104.0,823.3 112.0,824.5 120.0,821.2 128.0,812.3 136.0,802.1 144.0,798.7 152.0,796.0 160.0,792.5 168.0,791.4 176.0,787.4 184.0,792.2 192.0,785.4 200.0,793.1 208.0,789.4 216.0,787.4 224.0,787.4 232.0,780.5 240.0,777.2 248.0,771.7 256.0,781.2 264.0,782.5 272.0,782.5 280.0,786.5 288.0,784.2 296.0,782.5 304.0,793.1 312.0,789.1 320.0,781.2 328.0,782.8 336.0,802.4 344.0,802.4 352.0,802.4 360.0,801.3 368.0,800.4 376.0,812.3 384.0,808.4 392.0,818.3 400.0,815.4 408.0,815.4 416.0,814.1 424.0,812.3 432.0,814.3 440.0,806.4 448.0,806.4 456.0,805.3 464.0,800.4 472.0,800.4 480.0,800.4 488.0,799.1 496.0,797.5 504.0,787.2 512.0,781.5 520.0,797.1 528.0,811.4 536.0,803.5 544.0,807.4 552.0,807.4 560.0,804.4 568.0,804.4 576.0,807.4 584.0,805.7 592.0,805.3 600.0,805.3 608.0,798.7 616.0,806.4 624.0,807.4 632.0,797.8 640.0,793.8 648.0,789.8 656.0,798.4 664.0,794.7 672.0,793.4 680.0,789.4 688.0,792.4 696.0,791.0 704.0,778.8 712.0,774.6 720.0,773.3 728.0,769.3 736.0,766.7 744.0,767.6 752.0,768.2 760.0,769.3 768.0,772.2 776.0,767.6 784.0,777.5 792.0,774.6 800.0,775.1 808.0,786.8 816.0,783.1 824.0,786.5 832.0,817.3 840.0,811.3 848.0,807.3 856.0,811.3 864.0,809.3 872.0,811.3 880.0,814.6 888.0,811.7 896.0,812.3 904.0,815.7 912.0,819.7 920.0,825.6 928.0,838.9 936.0,843.1 944.0,844.2 952.0,847.5 960.0,834.7 968.0,832.3 976.0,832.3 984.0,833.3 992.0,832.3 1000.0,830.3 1008.0,822.3 1016.0,821.4 1024.0,830.3 1032.0,820.6 1040.0,817.4 1048.0,816.4 1056.0,817.4 1064.0,820.1 1072.0,816.4 1080.0,818.4 1088.0,821.9 1096.0,827.2 1104.0,824.3 1112.0,823.4 1120.0,818.6 1128.0,820.3 1136.0,818.0 1144.0,813.5 1152.0,812.4 1160.0,815.7 1168.0,828.3 1176.0,829.6 1184.0,836.9 1192.0,821.0 1200.0,816.4 1208.0,817.4 1216.0,814.4 1224.0,814.4 1232.0,814.4 1240.0,814.4 1248.0,813.1 1256.0,808.4 1264.0,811.3 1272.0,811.3 1280.0,810.4 1288.0,802.5 1296.0,795.2 1304.0,803.4 1312.0,790.5 1320.0,790.5 1328.0,788.5 1336.0,789.6" fill="none" stroke="#1e90ff" stroke-width="1" shape-rendering="crispEdges"/>
<g fill="none" stroke="#000" stroke-width="1" shape-rendering="crispEdges">
<rect x="7.5" y="28.5" width="1681" height="539"/>
<rect x="7.5" y="569.5" width="1681" height="172"/>
<rect x="7.5" y="743.5" width="1681" height="128"/>
</g>
<g shape-rendering="crispEdges">
<rect x="1689" y="36" width="2" height="1" fill="#000"/>
<rect x="1689" y="69" width="2" height="1" fill="#000"/>
<rect x="1689" y="102" width="2" height="1" fill="#000"/>
<rect x="1689" y="135" width="2" height="1" fill="#000"/>
<rect x="1689" y="168" width="2" height="1" fill="#000"/>
<rect x="1689" y="201" width="2" height="1" fill="#000"/>
<rect x="1689" y="234" width="2" height="1" fill="#000"/>
<rect x="1689" y="267" width="2" height="1" fill="#000"/>
<rect x="1689" y="300" width="2" height="1" fill="#000"/>
<rect x="1689" y="333" width="2" height="1" fill="#000"/>
<rect x="1689" y="366" width="2" height="1" fill="#000"/>
<rect x="1689" y="399" width="2" height="1" fill="#000"/>
<rect x="1689" y="432" width="2" height="1" fill="#000"/>
<rect x="1689" y="465" width="2" height="1" fill="#000"/>
<rect x="1689" y="498" width="2" height="1" fill="#000"/>
<rect x="1689" y="531" width="2" height="1" fill="#000"/>
<rect x="1689" y="564" width="2" height="1" fill="#000"/>
<rect x="1689" y="571" width="2" height="1" fill="#000"/>
<rect x="1689" y="648" width="2" height="1" fill="#000"/>
<rect x="1689" y="740" width="2" height="1" fill="#000"/>
<rect x="1689" y="744" width="2" height="1" fill="#000"/>
<rect x="1689" y="782" width="2" height="1" fill="#000"/>
<rect x="1689" y="833" width="2" height="1" fill="#000"/>
<rect x="1689" y="870" width="2" height="1" fill="#000"/>
<rect x="8" y="872" width="1" height="3" fill="#000"/>
<rect x="72" y="872" width="1" height="3" fill="#000"/>
<rect x="136" y="872" width="1" height="3" fill="#000"/>
<rect x="200" y="872" width="1" height="3" fill="#000"/>
<rect x="264" y="872" width="1" height="3" fill="#000"/>
<rect x="328" y="872" width="1" height="3" fill="#000"/>
<rect x="392" y="872" width="1" height="3" fill="#000"/>
<rect x="456" y="872" width="1" height="3" fill="#000"/>
<rect x="520" y="872" width="1" height="3" fill="#000"/>
<rect x="584" y="872" width="1" height="3" fill="#000"/>
<rect x="648" y="872" width="1" height="3" fill="#000"/>
<rect x="712" y="872" width="1" height="3" fill="#000"/>
<rect x="776" y="872" width="1" height="3" fill="#000"/>
<rect x="840" y="872" width="1" height="3" fill="#000"/>
<rect x="904" y="872" width="1" height="3" fill="#000"/>
<rect x="968" y="872" width="1" height="3" fill="#000"/>
<rect x="1032" y="872" width="1" height="3" fill="#000"/>
<rect x="1096" y="872" width="1" height="3" fill="#000"/>
<rect x="1160" y="872" width="1" height="3" fill="#000"/>
<rect x="1224" y="872" width="1" height="3" fill="#000"/>
<rect x="1288" y="872" width="1" height="3" fill="#000"/>
</g>
<g font-family='"Liberation Sans", Arial, sans-serif'>
<text transform="translate(1694,40) scale(0.94,1.0)" font-size="10.0" fill="#000">1964.80</text>
<text transform="translate(1694,73) scale(0.94,1.0)" font-size="10.0" fill="#000">1954.60</text>
<text transform="translate(1694,106) scale(0.94,1.0)" font-size="10.0" fill="#000">1944.40</text>
<text transform="translate(1694,139) scale(0.94,1.0)" font-size="10.0" fill="#000">1934.50</text>
<text transform="translate(1694,172) scale(0.94,1.0)" font-size="10.0" fill="#000">1924.30</text>
<text transform="translate(1694,205) scale(0.94,1.0)" font-size="10.0" fill="#000">1914.10</text>
<text transform="translate(1694,238) scale(0.94,1.0)" font-size="10.0" fill="#000">1903.90</text>
<text transform="translate(1694,271) scale(0.94,1.0)" font-size="10.0" fill="#000">1893.70</text>
<text transform="translate(1694,304) scale(0.94,1.0)" font-size="10.0" fill="#000">1883.50</text>
<text transform="translate(1694,337) scale(0.94,1.0)" font-size="10.0" fill="#000">1873.30</text>
<text transform="translate(1694,370) scale(0.94,1.0)" font-size="10.0" fill="#000">1863.10</text>
<text transform="translate(1694,403) scale(0.94,1.0)" font-size="10.0" fill="#000">1852.90</text>
<text transform="translate(1694,436) scale(0.94,1.0)" font-size="10.0" fill="#000">1842.70</text>
<text transform="translate(1694,469) scale(0.94,1.0)" font-size="10.0" fill="#000">1832.50</text>
<text transform="translate(1694,502) scale(0.94,1.0)" font-size="10.0" fill="#000">1822.30</text>
<text transform="translate(1694,535) scale(0.94,1.0)" font-size="10.0" fill="#000">1812.10</text>
<text transform="translate(1694,568) scale(0.94,1.0)" font-size="10.0" fill="#000">1802.20</text>
<rect x="1690" y="78" width="41" height="11" fill="#ff0000"/>
<text transform="translate(1694,87) scale(0.94,1.0)" font-size="10.0" fill="#fff">1950.00</text>
<rect x="1690" y="208" width="41" height="11" fill="#ff0000"/>
<text transform="translate(1694,217) scale(0.94,1.0)" font-size="10.0" fill="#fff">1910.00</text>
<rect x="1690" y="342" width="41" height="11" fill="#000000"/>
<text transform="translate(1694,351) scale(0.94,1.0)" font-size="10.0" fill="#fff">1869.14</text>
<rect x="1690" y="354" width="41" height="11" fill="#32cd32"/>
<text transform="translate(1694,363) scale(0.94,1.0)" font-size="10.0" fill="#fff">1865.00</text>
<rect x="1690" y="516" width="41" height="11" fill="#4169e1"/>
<text transform="translate(1694,525) scale(0.94,1.0)" font-size="10.0" fill="#fff">1815.00</text>
<text transform="translate(1693,580) scale(0.94,1.0)" font-size="10.0" fill="#000">18.788</text>
<text transform="translate(1693,652) scale(0.94,1.0)" font-size="10.0" fill="#000">0.00</text>
<text transform="translate(1693,738) scale(0.94,1.0)" font-size="10.0" fill="#000">-22.515</text>
<text transform="translate(1693,754) scale(0.94,1.0)" font-size="10.0" fill="#000">100</text>
<text transform="translate(1693,786) scale(0.94,1.0)" font-size="10.0" fill="#000">70</text>
<text transform="translate(1693,837) scale(0.94,1.0)" font-size="10.0" fill="#000">30</text>
<text transform="translate(1693,868) scale(0.94,1.0)" font-size="10.0" fill="#000">0</text>
<polygon points="11,35 18,35 14.5,39" fill="#000"/>
<text transform="translate(23,40) scale(0.94,1.0)" font-size="10.0" fill="#000">XAUUSD-,H4&#160;&#160;1869.99 1870.14 1867.86 1869.14</text>
<text transform="translate(11,582) scale(0.94,1.0)" font-size="10.0" fill="#000">MACD(12,26,9) 5.149 0.089</text>
<text transform="translate(11.5,756) scale(0.94,1.0)" font-size="10.0" fill="#000">RSI(14) 64.5376</text>
<text transform="translate(6.5,884) scale(0.94,1.0)" font-size="10.0" fill="#000">10 Dec 2020</text>
<text transform="translate(70.5,884) scale(0.94,1.0)" font-size="10.0" fill="#000">13 Dec 23:00</text>
<text transform="translate(134.5,884) scale(0.94,1.0)" font-size="10.0" fill="#000">15 Dec 04:00</text>
<text transform="translate(198.5,884) scale(0.94,1.0)" font-size="10.0" fill="#000">16 Dec 12:00</text>
<text transform="translate(262.5,884) scale(0.94,1.0)" font-size="10.0" fill="#000">17 Dec 20:00</text>
<text transform="translate(326.5,884) scale(0.94,1.0)" font-size="10.0" fill="#000">21 Dec 04:00</text>
<text transform="translate(390.5,884) scale(0.94,1.0)" font-size="10.0" fill="#000">22 Dec 12:00</text>
<text transform="translate(454.5,884) scale(0.94,1.0)" font-size="10.0" fill="#000">23 Dec 20:00</text>
<text transform="translate(518.5,884) scale(0.94,1.0)" font-size="10.0" fill="#000">28 Dec 04:00</text>
<text transform="translate(582.5,884) scale(0.94,1.0)" font-size="10.0" fill="#000">29 Dec 12:00</text>
<text transform="translate(646.5,884) scale(0.94,1.0)" font-size="10.0" fill="#000">30 Dec 20:00</text>
<text transform="translate(710.5,884) scale(0.94,1.0)" font-size="10.0" fill="#000">4 Jan 00:00</text>
<text transform="translate(774.5,884) scale(0.94,1.0)" font-size="10.0" fill="#000">5 Jan 08:00</text>
<text transform="translate(838.5,884) scale(0.94,1.0)" font-size="10.0" fill="#000">6 Jan 16:00</text>
<text transform="translate(902.5,884) scale(0.94,1.0)" font-size="10.0" fill="#000">8 Jan 00:00</text>
<text transform="translate(966.5,884) scale(0.94,1.0)" font-size="10.0" fill="#000">11 Jan 08:00</text>
<text transform="translate(1030.5,884) scale(0.94,1.0)" font-size="10.0" fill="#000">12 Jan 16:00</text>
<text transform="translate(1094.5,884) scale(0.94,1.0)" font-size="10.0" fill="#000">14 Jan 00:00</text>
<text transform="translate(1158.5,884) scale(0.94,1.0)" font-size="10.0" fill="#000">15 Jan 08:00</text>
<text transform="translate(1222.5,884) scale(0.94,1.0)" font-size="10.0" fill="#000">18 Jan 16:00</text>
<text transform="translate(1286.5,884) scale(0.94,1.0)" font-size="10.0" fill="#000">20 Jan 00:00</text>
</g>
<text transform="translate(1378.6,448.7) scale(0.98,1)" font-size="37.5" fill="#ea1a22" font-family='"Liberation Sans", "Noto Sans CJK SC", sans-serif'>多空转折点<tspan dy="-3.3">1865</tspan></text>
<g shape-rendering="crispEdges" fill="#505050">
<rect x="4" y="5" width="1" height="1" fill="#404040"/>
<rect x="6" y="5" width="1" height="1" fill="#404040"/>
<rect x="8" y="5" width="1" height="1" fill="#404040"/>
<rect x="10" y="5" width="1" height="1" fill="#404040"/>
<rect x="12" y="5" width="1" height="1" fill="#404040"/>
<rect x="14" y="5" width="1" height="1" fill="#404040"/>
<rect x="16" y="5" width="1" height="1" fill="#404040"/>
<rect x="4" y="8" width="1" height="1" fill="#404040"/>
<rect x="6" y="8" width="1" height="1" fill="#404040"/>
<rect x="8" y="8" width="1" height="1" fill="#404040"/>
<rect x="10" y="8" width="1" height="1" fill="#404040"/>
<rect x="12" y="8" width="1" height="1" fill="#404040"/>
<rect x="14" y="8" width="1" height="1" fill="#404040"/>
<rect x="16" y="8" width="1" height="1" fill="#404040"/>
<rect x="4" y="12" width="1" height="1" fill="#404040"/>
<rect x="6" y="12" width="1" height="1" fill="#404040"/>
<rect x="8" y="12" width="1" height="1" fill="#404040"/>
<rect x="10" y="12" width="1" height="1" fill="#404040"/>
<rect x="12" y="12" width="1" height="1" fill="#404040"/>
<rect x="14" y="12" width="1" height="1" fill="#404040"/>
<rect x="16" y="12" width="1" height="1" fill="#404040"/>
<rect x="4" y="16" width="1" height="1" fill="#404040"/>
<rect x="6" y="16" width="1" height="1" fill="#404040"/>
<rect x="8" y="16" width="1" height="1" fill="#404040"/>
<rect x="10" y="16" width="1" height="1" fill="#404040"/>
<rect x="12" y="16" width="1" height="1" fill="#404040"/>
</g>
<g font-family='"Liberation Sans", Arial, sans-serif'>
<text x="13.6" y="21" font-size="7.5" font-weight="bold" fill="#404040">F</text>
<text x="34.7" y="17.2" font-size="13" fill="#505050" stroke="#505050" stroke-width="0.5">A</text>
</g>
<g shape-rendering="crispEdges">
<rect x="64" y="6" width="1" height="1" fill="#505050"/>
<rect x="66" y="6" width="1" height="1" fill="#505050"/>
<rect x="68" y="6" width="1" height="1" fill="#505050"/>
<rect x="70" y="6" width="1" height="1" fill="#505050"/>
<rect x="72" y="6" width="1" height="1" fill="#505050"/>
<rect x="61" y="18" width="1" height="1" fill="#505050"/>
<rect x="63" y="18" width="1" height="1" fill="#505050"/>
<rect x="65" y="18" width="1" height="1" fill="#505050"/>
<rect x="67" y="18" width="1" height="1" fill="#505050"/>
<rect x="69" y="18" width="1" height="1" fill="#505050"/>
<rect x="71" y="18" width="1" height="1" fill="#505050"/>
<rect x="61" y="8" width="1" height="1" fill="#505050"/>
<rect x="61" y="10" width="1" height="1" fill="#505050"/>
<rect x="61" y="12" width="1" height="1" fill="#505050"/>
<rect x="61" y="14" width="1" height="1" fill="#505050"/>
<rect x="61" y="16" width="1" height="1" fill="#505050"/>
<rect x="61" y="18" width="1" height="1" fill="#505050"/>
<rect x="72" y="6" width="1" height="1" fill="#505050"/>
<rect x="72" y="8" width="1" height="1" fill="#505050"/>
<rect x="72" y="10" width="1" height="1" fill="#505050"/>
<rect x="72" y="12" width="1" height="1" fill="#505050"/>
<rect x="72" y="14" width="1" height="1" fill="#505050"/>
<rect x="72" y="16" width="1" height="1" fill="#505050"/>
<rect x="60" y="5" width="2" height="2" fill="#505050"/>
<rect x="63" y="9" width="8" height="1" fill="#505050"/>
<rect x="66" y="9" width="2" height="8" fill="#505050"/>
</g>
<polygon points="91.4,6 95,9.5 92.7,9.5 92.7,10.8 90.3,10.8 90.3,9.5 87.9,9.5" fill="#505050"/>
<polyline points="90.1,13.1 92.4,15.4 96.8,10.5" fill="none" stroke="#505050" stroke-width="1.4"/>
<polygon points="97.3,14.3 99.8,14.3 99.8,15.5 101.9,15.5 98.4,19 95.2,15.5 97.3,15.5" fill="#505050"/>
<polygon points="109,11 114.5,11 111.75,14" fill="#000"/>
<g shape-rendering="crispEdges">
<rect x="120" y="0" width="1" height="24" fill="#a0a0a0"/>
<rect x="121" y="0" width="1" height="24" fill="#ffffff"/>
<rect x="124" y="2" width="3" height="1" fill="#a0a0a0"/>
<rect x="124" y="4" width="3" height="1" fill="#a0a0a0"/>
<rect x="124" y="6" width="3" height="1" fill="#a0a0a0"/>
<rect x="124" y="8" width="3" height="1" fill="#a0a0a0"/>
<rect x="124" y="10" width="3" height="1" fill="#a0a0a0"/>
<rect x="124" y="12" width="3" height="1" fill="#a0a0a0"/>
<rect x="124" y="14" width="3" height="1" fill="#a0a0a0"/>
<rect x="124" y="16" width="3" height="1" fill="#a0a0a0"/>
<rect x="124" y="18" width="3" height="1" fill="#a0a0a0"/>
<rect x="124" y="20" width="3" height="1" fill="#a0a0a0"/>
<rect x="381" y="0" width="1" height="24" fill="#a0a0a0"/>
<rect x="382" y="0" width="1" height="24" fill="#ffffff"/>
<rect x="270" y="0" width="25" height="22" fill="#f8f8f8"/>
<rect x="270" y="0" width="25" height="1" fill="#a0a0a0"/>
<rect x="270" y="0" width="1" height="22" fill="#a0a0a0"/>
<rect x="294" y="0" width="1" height="22" fill="#ffffff"/>
</g>
<g font-family='"Liberation Sans", Arial, sans-serif'>
<text transform="translate(135.6,16) scale(0.94,1.0)" font-size="10.0" fill="#303030">M1</text>
<text transform="translate(163.5,16) scale(0.94,1.0)" font-size="10.0" fill="#303030">M5</text>
<text transform="translate(189.5,16) scale(0.94,1.0)" font-size="10.0" fill="#303030">M15</text>
<text transform="translate(217.7,16) scale(0.94,1.0)" font-size="10.0" fill="#303030">M30</text>
<text transform="translate(248.3,16) scale(0.94,1.0)" font-size="10.0" fill="#303030">H1</text>
<text transform="translate(275.5,16) scale(0.94,1.0)" font-size="10.0" fill="#303030">H4</text>
<text transform="translate(304.3,16) scale(0.94,1.0)" font-size="10.0" fill="#303030">D1</text>
<text transform="translate(331.8,16) scale(0.94,1.0)" font-size="10.0" fill="#303030">W1</text>
<text transform="translate(358.7,16) scale(0.94,1.0)" font-size="10.0" fill="#303030">MN</text>
</g>
</svg>
</body></html>
